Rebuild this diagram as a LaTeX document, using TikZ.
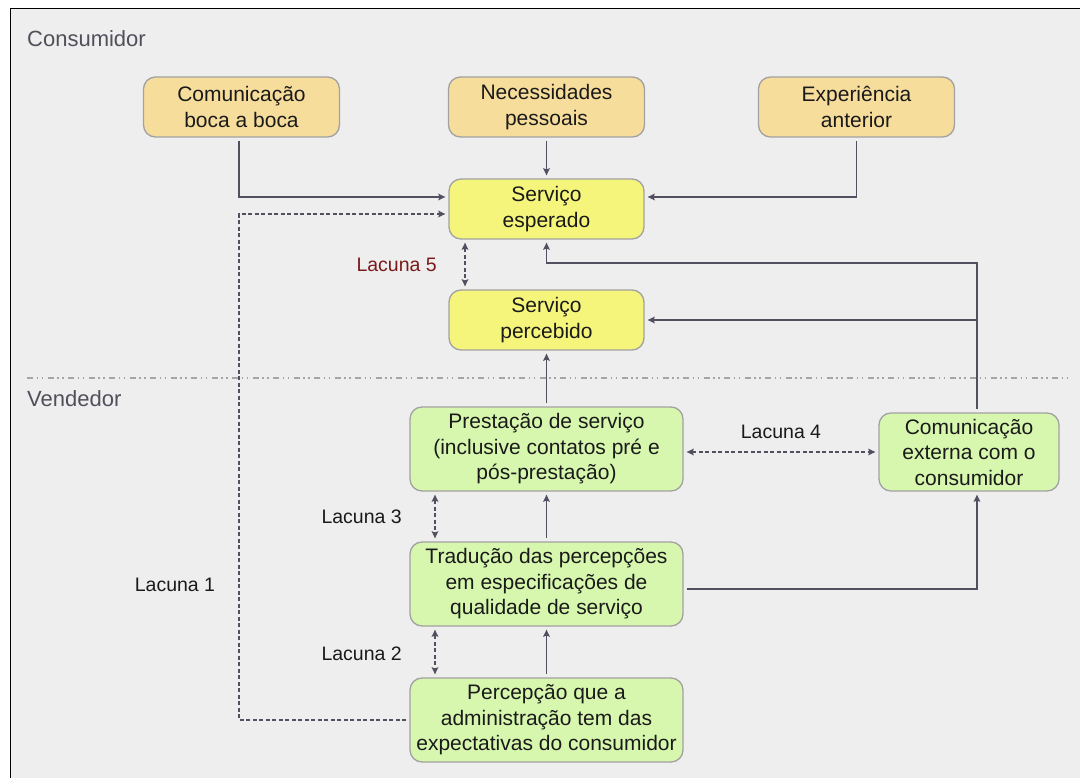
\documentclass[tikz,border=0pt]{standalone}
\usepackage{fontspec}
\setmainfont{Liberation Sans}
\usetikzlibrary{arrows.meta,calc}
\definecolor{bgc}{HTML}{EEEEEE}
\definecolor{tanf}{HTML}{F7DD9B}
\definecolor{yelf}{HTML}{F6F57B}
\definecolor{grnf}{HTML}{D7F7AE}
\definecolor{bordc}{HTML}{A2A2A2}
\definecolor{txtc}{HTML}{1A1A1A}
\definecolor{arrc}{HTML}{505060}
\definecolor{secc}{HTML}{50505A}
\definecolor{redc}{HTML}{7A1A1A}
\definecolor{sepc}{HTML}{A5A5A5}
\tikzset{
  box/.style={draw=bordc, line width=1.3pt, rounded corners=12pt, align=center,
    text=txtc, inner sep=0pt, font=\fontsize{21}{25.5}\selectfont},
  tanbox/.style={box, fill=tanf, minimum width=196pt, minimum height=60pt},
  yelbox/.style={box, fill=yelf, minimum width=195pt, minimum height=60pt},
  grnbox/.style={box, fill=grnf, minimum width=273pt, minimum height=84pt},
  conn/.style={draw=arrc, line width=1.4pt, -{Stealth[length=7pt,width=6.5pt,inset=1pt]},
    shorten >=3pt, shorten <=3pt},
  gap/.style={conn, dashed, dash pattern=on 4pt off 2.5pt, {Stealth[length=7pt,width=6.5pt,inset=1pt]}-{Stealth[length=7pt,width=6.5pt,inset=1pt]}},
  lab/.style={text=txtc, font=\fontsize{19.5}{23}\selectfont, inner sep=0pt},
  sec/.style={text=secc, font=\fontsize{22}{26}\selectfont, inner sep=0pt, anchor=west},
}
\begin{document}
\begin{tikzpicture}[x=1pt,y=-1pt]
\useasboundingbox (0,0) rectangle (1080,778);
\fill[white] (0,0) rectangle (1080,778);
\fill[bgc] (10.5,8.5) rectangle (1095,795);
\draw[black, line width=1.6pt] (10.5,795) -- (10.5,8.5) -- (1095,8.5);

% separator
\coordinate (sepL) at (27,377.5);
\coordinate (sepR) at (1072,377.5);
\draw[sepc, line width=2pt, dash pattern=on 6pt off 3.5pt on 1.6pt off 3.5pt on 1.6pt off 4.3pt] (sepL) -- (sepR);

\node[sec] (consumidor) at (27,39) {Consumidor};
\node[sec] (vendedor) at (27,399) {Vendedor};

% consumer nodes
\node[tanbox] (cbb) at (241.5,107) {Comunicação\\boca a boca};
\node[tanbox] (nec) at (546.5,107) {Necessidades\\pessoais};
\node[tanbox] (exp) at (856.5,107) {Experiência\\anterior};
\node[yelbox] (esp) at (546.5,209) {Serviço\\esperado};
\node[yelbox] (per) at (546.5,320) {Serviço\\percebido};

% vendor nodes
\node[grnbox] (pres) at (546.5,449) {Prestação de serviço\\(inclusive contatos pré e\\pós-prestação)};
\node[grnbox] (trad) at (546.5,584) {Tradução das percepções\\em especificações de\\qualidade de serviço};
\node[grnbox] (perc) at (546.5,720) {Percepção que a\\administração tem das\\expectativas do consumidor};
\node[box, fill=grnf, minimum width=180pt, minimum height=78pt] (ext) at (969,452) {Comunicação\\externa com o\\consumidor};

% helper coordinates
\coordinate (colL) at (239,0);
\coordinate (colR) at (977,0);
\coordinate (rowTop) at (0,263);
\coordinate (espA) at ($(esp.west)+(0,-12)$);
\coordinate (espB) at ($(esp.west)+(0,5)$);
\coordinate (espC) at ($(esp.east)+(0,-12)$);
\coordinate (tradR) at ($(trad.east)+(0,5)$);

% consumer connectors
\draw[conn] (cbb.south -| colL) |- (espA);
\draw[conn] (nec.south) -- (esp.north);
\draw[conn] (exp.south) |- (espC);
\draw[conn] (ext.north -| colR) -- (colR |- rowTop) -| (esp.south);
\draw[conn, shorten <=0pt] (colR |- per.east) -- (per.east);

% Lacuna 1
\draw[conn, dashed, dash pattern=on 4pt off 2.5pt] (perc.west) -- (perc.west -| colL) -- (colL |- espB) -- (espB);

% vendor connectors
\draw[conn] (pres.north) -- (per.south);
\draw[conn] (trad.north) -- (pres.south);
\draw[conn] (perc.north) -- (trad.south);
\draw[conn] (tradR) -| (ext.south -| colR);

% gaps
\coordinate (g5) at (465,0);
\coordinate (g23) at (435,0);
\draw[gap] (esp.south -| g5) -- (per.north -| g5);
\draw[gap] (pres.south -| g23) -- (trad.north -| g23);
\draw[gap] (trad.south -| g23) -- (perc.north -| g23);
\draw[gap] (pres.east |- ext.west) -- (ext.west);

% labels
\node[lab, text=redc, anchor=east] (l5) at (437,265) {Lacuna 5};
\node[lab] (l4) at (781,432) {Lacuna 4};
\node[lab, anchor=east] (l3) at (402,517) {Lacuna 3};
\node[lab, anchor=east] (l2) at (402,654) {Lacuna 2};
\node[lab] (l1) at (175,585) {Lacuna 1};
\end{tikzpicture}
\end{document}
